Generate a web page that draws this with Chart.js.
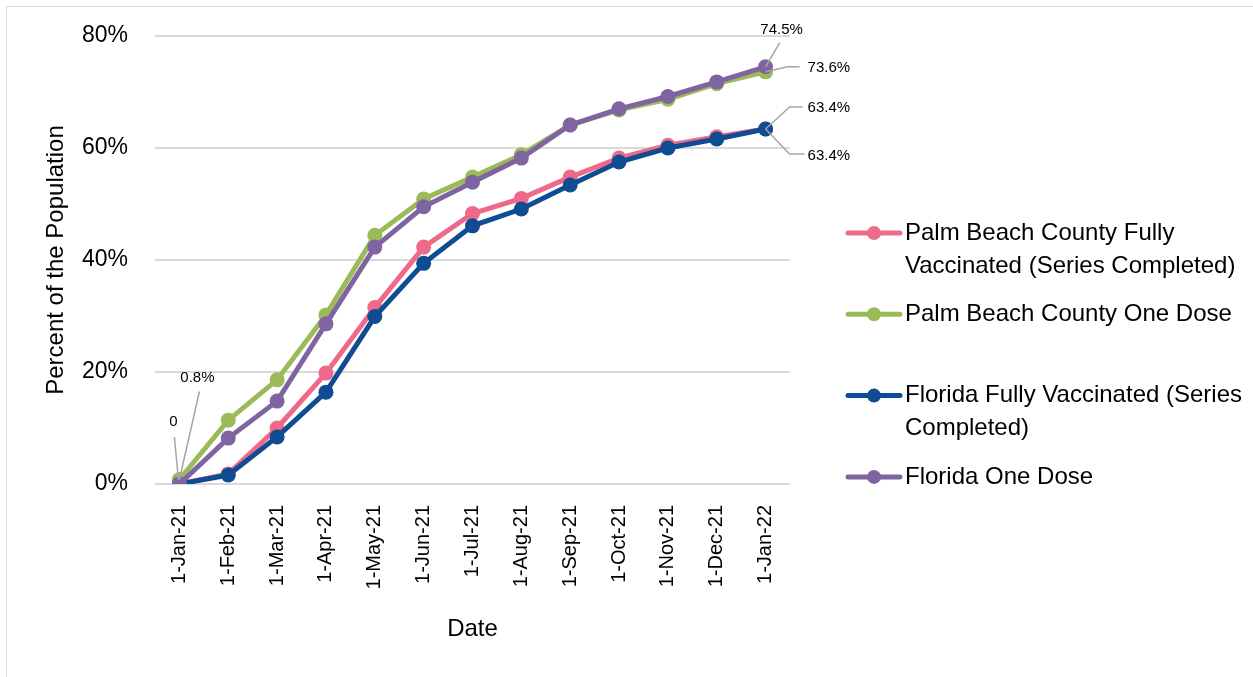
<!DOCTYPE html>
<html>
<head>
<meta charset="utf-8">
<script src="https://cdn.jsdelivr.net/npm/chart.js@4.4.0/dist/chart.umd.min.js"></script>
<style>
  body { margin: 0; background: #fff; }
  #wrap { position: relative; width: 1253px; height: 677px; overflow: hidden; }
  #frame { position: absolute; left: 6px; top: 6px; width: 1300px; height: 700px; border: 1px solid #d9d9d9; }
  canvas { position: absolute; left: 0; top: 0; }
</style>
</head>
<body>
<div id="wrap">
  <div id="frame"></div>
  <canvas id="vaxChart" width="1253" height="677"></canvas>
</div>
<script>
// data (percent of population)
const dates = ['1-Jan-21', '1-Feb-21', '1-Mar-21', '1-Apr-21', '1-May-21', '1-Jun-21', '1-Jul-21',
               '1-Aug-21', '1-Sep-21', '1-Oct-21', '1-Nov-21', '1-Dec-21', '1-Jan-22'];
const pbFull = [0, 1.8, 10.0, 19.8, 31.5, 42.3, 48.3, 51.0, 54.8, 58.2, 60.5, 62.0, 63.4];
const pbOne  = [0.8, 11.4, 18.6, 30.2, 44.4, 50.9, 54.8, 58.8, 64.1, 66.8, 68.7, 71.5, 73.6];
const flFull = [0, 1.6, 8.4, 16.4, 29.9, 39.4, 46.1, 49.1, 53.4, 57.5, 60.0, 61.6, 63.4];
const flOne  = [0, 8.2, 14.8, 28.6, 42.3, 49.5, 53.9, 58.2, 64.1, 67.0, 69.2, 71.8, 74.5];
const yTicks = [0, 20, 40, 60, 80];

const FONT = '"Liberation Sans", Arial, sans-serif';

const series = [
    { label: 'Palm Beach County Fully Vaccinated (Series Completed)', data: pbFull, color: '#EF6A8A', order: 4 },
    { label: 'Palm Beach County One Dose', data: pbOne, color: '#9BBB59', order: 3 },
    { label: 'Florida Fully Vaccinated (Series Completed)', data: flFull, color: '#0F4C92', order: 2 },
    { label: 'Florida One Dose', data: flOne, color: '#8064A2', order: 1 }
];

// which points carry a value label, and where the label/leader sit relative to the point
const pointLabels = [
    { ds: 0, idx: 0, tx: -6, ty: -62, align: 'center', path: [[-1, -4], [-5, -47]] },
    { ds: 1, idx: 0, tx: 18, ty: -102, align: 'center', path: [[0, 0], [20, -88]] },
    { ds: 3, idx: 12, tx: 16, ty: -37, align: 'center', path: [[0, 0], [14, -24]] },
    { ds: 1, idx: 12, tx: 42, ty: -4, align: 'left', path: [[0, 0], [22, -5], [34, -5]] },
    { ds: 0, idx: 12, tx: 42, ty: -21, align: 'left', path: [[0, 0], [24, -22], [37, -22]] },
    { ds: 2, idx: 12, tx: 42, ty: 27, align: 'left', path: [[0, 0], [24, 25], [39, 25]] }
];

function fmtValue(v) {
    return v === 0 ? '0' : v.toFixed(1) + '%';
}

const valueLabelPlugin = {
    id: 'valueLabels',
    afterDatasetsDraw(chart) {
        const ctx = chart.ctx;
        ctx.save();
        pointLabels.forEach(l => {
            const pt = chart.getDatasetMeta(l.ds).data[l.idx];
            const v = chart.data.datasets[l.ds].data[l.idx];
            ctx.strokeStyle = '#a6a6a6';
            ctx.lineWidth = 1.5;
            ctx.beginPath();
            l.path.forEach((p, i) => {
                if (i === 0) ctx.moveTo(pt.x + p[0], pt.y + p[1]);
                else ctx.lineTo(pt.x + p[0], pt.y + p[1]);
            });
            ctx.stroke();
            ctx.fillStyle = '#000';
            ctx.font = '15px ' + FONT;
            ctx.textAlign = l.align;
            ctx.textBaseline = 'middle';
            ctx.fillText(fmtValue(v), pt.x + l.tx, pt.y + l.ty);
        });
        ctx.restore();
    }
};

// Excel style legend on the right, with wrapped labels
const sideLegendPlugin = {
    id: 'sideLegend',
    afterDraw(chart) {
        const ctx = chart.ctx;
        const x0 = 848, y0 = 233, step = 81.3, maxW = 345, lineH = 33;
        ctx.save();
        ctx.font = '24px ' + FONT;
        ctx.textBaseline = 'middle';
        ctx.textAlign = 'left';
        chart.data.datasets.forEach((ds, i) => {
            const y = y0 + i * step;
            ctx.strokeStyle = ds.borderColor;
            ctx.lineWidth = 5;
            ctx.lineCap = 'round';
            ctx.beginPath();
            ctx.moveTo(x0, y);
            ctx.lineTo(x0 + 52, y);
            ctx.stroke();
            ctx.fillStyle = ds.borderColor;
            ctx.beginPath();
            ctx.arc(x0 + 26, y, 7, 0, Math.PI * 2);
            ctx.fill();

            // wrap words
            const words = ds.label.split(' ');
            let line = '', lines = [];
            words.forEach(w => {
                const test = line ? line + ' ' + w : w;
                if (ctx.measureText(test).width > maxW && line) {
                    lines.push(line);
                    line = w;
                } else {
                    line = test;
                }
            });
            lines.push(line);
            ctx.fillStyle = '#000';
            lines.forEach((t, k) => ctx.fillText(t, x0 + 57, y + k * lineH));
        });
        ctx.restore();
    }
};

new Chart(document.getElementById('vaxChart'), {
    type: 'line',
    data: {
        labels: dates,
        datasets: series.map(s => ({
            label: s.label,
            data: s.data,
            borderColor: s.color,
            backgroundColor: s.color,
            borderWidth: 5,
            pointRadius: 7.5,
            pointBorderWidth: 0,
            pointBackgroundColor: s.color,
            tension: 0,
            order: s.order
        }))
    },
    options: {
        responsive: false,
        animation: false,
        layout: {
            padding: { left: 38, right: 463, top: 36, bottom: 29 }
        },
        plugins: {
            legend: { display: false },
            tooltip: { enabled: false }
        },
        scales: {
            y: {
                min: 0,
                max: 80,
                afterBuildTicks: axis => { axis.ticks = yTicks.map(v => ({ value: v })); },
                afterFit: scale => {
                    scale.width = 117;
                    scale.paddingTop = 0;
                    scale.paddingBottom = 0;
                },
                grid: { color: '#d9d9d9', lineWidth: 2, drawTicks: false },
                border: { display: false },
                ticks: {
                    padding: 27,
                    color: '#000',
                    font: { family: FONT, size: 23 },
                    callback: v => v + '%'
                },
                title: {
                    display: true,
                    text: 'Percent of the Population',
                    color: '#000',
                    font: { family: FONT, size: 24 }
                }
            },
            x: {
                offset: true,
                afterFit: scale => { scale.height = 164; },
                grid: { display: false, drawTicks: false },
                border: { display: false },
                ticks: {
                    minRotation: 90,
                    maxRotation: 90,
                    padding: 21,
                    color: '#000',
                    font: { family: FONT, size: 20 }
                },
                title: {
                    display: true,
                    text: 'Date',
                    color: '#000',
                    font: { family: FONT, size: 24 }
                }
            }
        }
    },
    plugins: [valueLabelPlugin, sideLegendPlugin]
});
</script>
</body>
</html>
